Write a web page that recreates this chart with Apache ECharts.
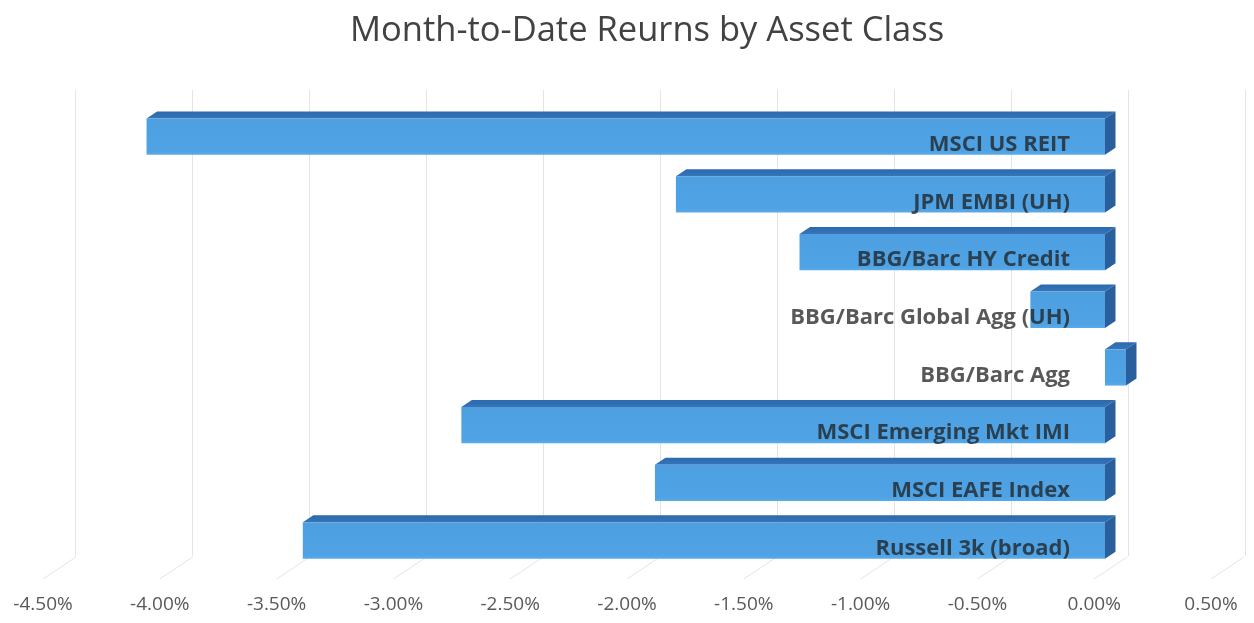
<!DOCTYPE html>
<html>
<head>
<meta charset="utf-8">
<script src="https://cdn.jsdelivr.net/npm/echarts@6/dist/echarts.min.js"></script>
<style>html,body{margin:0;padding:0;background:#fff;}#c{width:1254px;height:623px;}</style>
</head>
<body>
<div id="c"></div>
<script>
// Data (top row first)
const categories = ['MSCI US REIT', 'JPM EMBI (UH)', 'BBG/Barc HY Credit', 'BBG/Barc Global Agg (UH)', 'BBG/Barc Agg', 'MSCI Emerging Mkt IMI', 'MSCI EAFE Index', 'Russell 3k (broad)'];
const returns = [-4.11, -1.84, -1.31, -0.32, 0.09, -2.76, -1.93, -3.44];
const tickValues = [-4.5, -4.0, -3.5, -3.0, -2.5, -2.0, -1.5, -1.0, -0.5, 0.0, 0.5];
const axisMin = -4.5, axisMax = 0.5, axisStep = 0.5;
const titleText = 'Month-to-Date Reurns by Asset Class';

const chart = echarts.init(document.getElementById('c'), null, {renderer: 'canvas'});
const DX = 10.5, DY = -7;

const barData = returns.map((v, i) => [v, i]);
const floorData = tickValues.map(v => [v, 0]);

const option = {
  backgroundColor: '#ffffff',
  animation: false,
  title: {
    text: titleText, left: 345, top: 9,
    textStyle: {fontFamily: 'Open Sans', fontSize: 34.5, fontWeight: 'normal', color: '#424242'}
  },
  grid: [
    {left: 55.6, right: 32.4, top: 107.85, bottom: 53.65},   // bar plane
    {left: 43, right: 43, top: 557, bottom: 44},               // front floor / labels
    {left: 75, right: 9, top: 90, bottom: 67}                  // back wall
  ],
  xAxis: [
    {gridIndex: 0, type: 'value', min: axisMin, max: axisMax, interval: axisStep, show: false},
    {gridIndex: 1, type: 'value', min: axisMin, max: axisMax, interval: axisStep,
      axisLine: {show: false}, axisTick: {show: false}, splitLine: {show: false},
      axisLabel: {margin: 16, color: '#595959', fontFamily: 'Open Sans', fontSize: 19,
        formatter: v => v.toFixed(2) + '%'}},
    {gridIndex: 2, type: 'value', min: axisMin, max: axisMax, interval: axisStep,
      axisLine: {show: false}, axisTick: {show: false}, axisLabel: {show: false},
      splitLine: {show: true, lineStyle: {color: '#e4e4e4', width: 1}}}
  ],
  yAxis: [
    {gridIndex: 0, type: 'category', data: categories, inverse: true, show: false},
    {gridIndex: 1, type: 'value', min: 0, max: 1, show: false},
    {gridIndex: 2, type: 'value', min: 0, max: 1, show: false}
  ],
  series: [
    {
      type: 'custom', xAxisIndex: 1, yAxisIndex: 1, data: floorData, silent: true, z: 1,
      renderItem: function (params, api) {
        const cs = params.coordSys;
        const p = api.coord([api.value(0), 0]);
        const y0 = cs.y + cs.height, y1 = cs.y;
        const dx = (y0 - y1) * (DX / -DY);
        return {type: 'line', shape: {x1: p[0], y1: y0, x2: p[0] + dx, y2: y1},
          style: {stroke: '#e4e4e4', lineWidth: 1}};
      }
    },
    {
      type: 'custom', xAxisIndex: 0, yAxisIndex: 0, data: barData, z: 3,
      renderItem: function (params, api) {
        const cs = params.coordSys;
        const v = api.value(0), idx = api.value(1);
        const p0 = api.coord([0, idx]);
        const p1 = api.coord([v, idx]);
        const band = api.size([0, 1])[1];
        const h = band * 0.63;
        const top = p0[1] - h / 2, bot = p0[1] + h / 2;
        const xl = Math.min(p0[0], p1[0]), xr = Math.max(p0[0], p1[0]);
        return {
          type: 'group',
          children: [
            {type: 'polygon', shape: {points: [[xl, top], [xr, top], [xr + DX, top + DY], [xl + DX, top + DY]]},
              style: {fill: new echarts.graphic.LinearGradient(0, 0, 0, 1, [{offset: 0, color: '#2b6aae'}, {offset: 1, color: '#3774b8'}])}},
            {type: 'polygon', shape: {points: [[xr, top], [xr + DX, top + DY], [xr + DX, bot + DY], [xr, bot]]},
              style: {fill: '#2a5f9e'}},
            {type: 'rect', shape: {x: xl, y: top, width: xr - xl, height: h},
              style: {fill: new echarts.graphic.LinearGradient(0, 0, 0, 1, [{offset: 0, color: '#4d9fe0'}, {offset: 0.9, color: '#4fa3e4'}, {offset: 1, color: '#5aaae8'}])}},
            {type: 'text', z2: 10, style: {
              text: categories[idx], x: cs.x + cs.width - 151.6, y: p0[1] + 8,
              align: 'right', verticalAlign: 'middle',
              font: 'bold 22px "Open Sans"', fill: 'rgba(30,30,30,0.74)'}}
          ]
        };
      }
    }
  ]
};
chart.setOption(option);
</script>
</body>
</html>
